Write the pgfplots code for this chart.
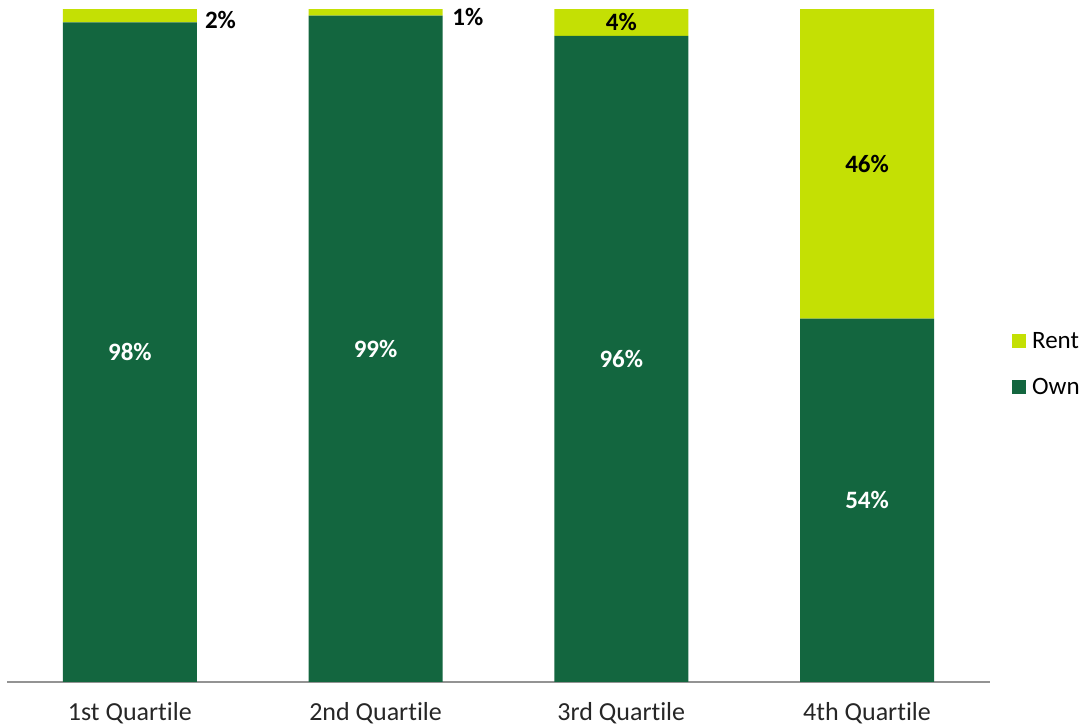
\documentclass[border=0pt]{standalone}
\usepackage{fontspec}
\setmainfont[Ligatures=NoCommon]{Carlito}
\usepackage{pgfplots}
\pgfplotsset{compat=1.18}

\definecolor{own}{RGB}{19,102,63}
\definecolor{rent}{RGB}{196,224,4}

\tikzset{lbl/.style={font=\fontsize{25}{30}\selectfont\bfseries, inner sep=0pt}}

\begin{document}
\begin{tikzpicture}
\begin{axis}[
    scale only axis,
    width=983pt, height=673pt,
    xmin=-0.5, xmax=3.5,
    ymin=0, ymax=100,
    ybar stacked,
    bar width=134pt,
    axis x line=bottom,
    axis y line=none,
    x axis line style={draw=gray!85, line width=1.2pt, -},
    xtick={0,1,2,3},
    xticklabels={1st Quartile, 2nd Quartile, 3rd Quartile, 4th Quartile},
    major tick length=0pt,
    xticklabel style={font=\fontsize{26}{30}\selectfont, text=black!85, yshift=-17pt},
    legend style={draw=none, at={(rel axis cs:1.0224,0.472)}, anchor=west,
        font=\fontsize{25}{30}\selectfont, row sep=24pt, inner sep=0pt,
        nodes={inner xsep=6pt}},
    legend cell align=left,
    reverse legend,
    legend image code/.code={\fill[#1] (0pt,-7pt) rectangle (14pt,7pt);},
    clip=false,
]
\addplot[fill=own, draw=none] coordinates {(0,98) (1,99) (2,96) (3,54)};
\addlegendentry{Own}
\addplot[fill=rent, draw=none] coordinates {(0,2) (1,1) (2,4) (3,46)};
\addlegendentry{Rent}

% label anchors (text placed after the axis so it sits over the bars)
\coordinate (o1) at (axis cs:0,49);
\coordinate (o2) at (axis cs:1,49.5);
\coordinate (o3) at (axis cs:2,48);
\coordinate (o4) at (axis cs:3,27);
\coordinate (r1) at (axis cs:0.305,98.4);
\coordinate (r2) at (axis cs:1.312,98.8);
\coordinate (r3) at (axis cs:2,98);
\coordinate (r4) at (axis cs:3,77);

\coordinate (bl) at (axis cs:-0.5285,-6.835);
\coordinate (tr) at (axis cs:3.891,101.34);
\end{axis}
\node[lbl, text=white] at (o1) {98\%};
\node[lbl, text=white] at (o2) {99\%};
\node[lbl, text=white] at (o3) {96\%};
\node[lbl, text=white] at (o4) {54\%};
\node[lbl, anchor=west] at (r1) {2\%};
\node[lbl, anchor=west] at (r2) {1\%};
\node[lbl] at (r3) {4\%};
\node[lbl] at (r4) {46\%};
\pgfresetboundingbox
\path[use as bounding box] (bl) rectangle (tr);
\end{tikzpicture}
\end{document}
